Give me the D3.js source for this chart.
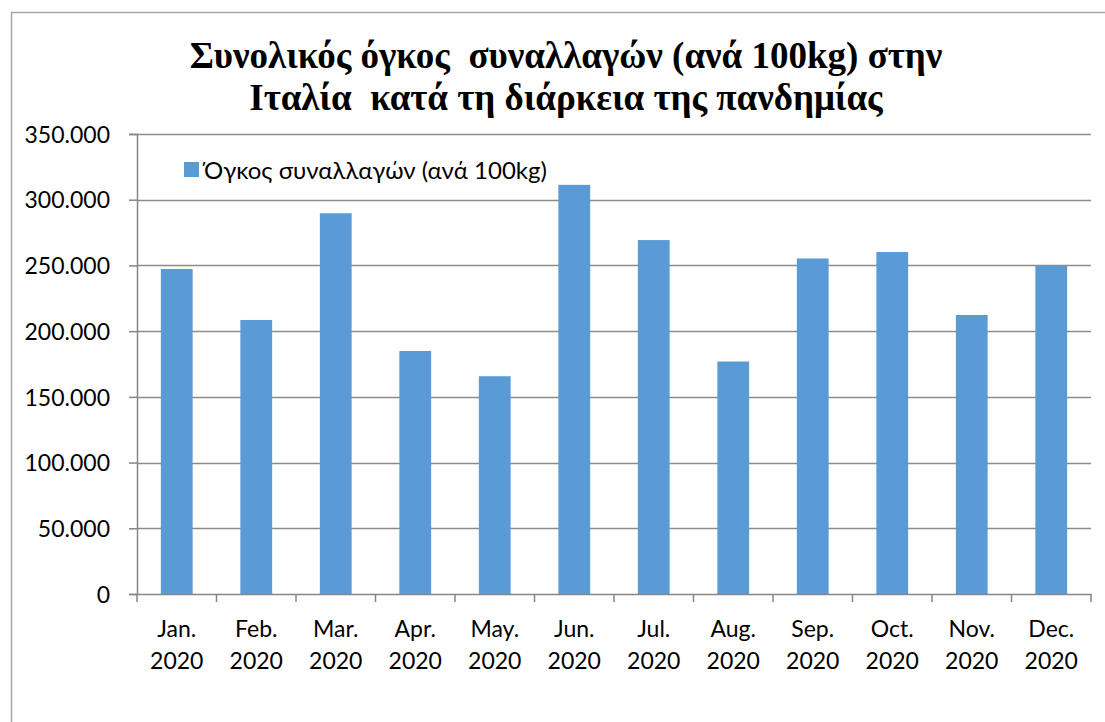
<!DOCTYPE html>
<html>
<head>
<meta charset="utf-8">
<script src="https://cdn.jsdelivr.net/npm/d3@7"></script>
<style>
  body { margin: 0; background: #fff; }
  .tick text { fill: #000; }
</style>
</head>
<body>
<div id="wrapper"></div>
<script>
const months = ["Jan.", "Feb.", "Mar.", "Apr.", "May.", "Jun.", "Jul.", "Aug.", "Sep.", "Oct.", "Nov.", "Dec."]
const year = "2020"
const volumes = [247300, 208500, 289700, 184900, 165700, 311300, 269300, 176900, 255300, 260200, 212300, 249900]
const yTicks = [0, 50000, 100000, 150000, 200000, 250000, 300000, 350000]
const titleLines = ["Συνολικός όγκος  συναλλαγών (ανά 100kg) στην", "Ιταλία  κατά τη διάρκεια της πανδημίας"]
const seriesName = "Όγκος συναλλαγών (ανά 100kg)"

function drawBarChart() {
  const dataset = months.map((m, i) => ({month: m, value: volumes[i]}))

  const dimensions = {
    width: 1105,
    height: 722,
    margin: { top: 134, right: 14, bottom: 128, left: 137 }
  }
  dimensions.boundedWidth = dimensions.width - dimensions.margin.left - dimensions.margin.right
  dimensions.boundedHeight = dimensions.height - dimensions.margin.top - dimensions.margin.bottom

  const wrapper = d3.select("#wrapper")
    .append("svg")
      .attr("width", dimensions.width)
      .attr("height", dimensions.height)

  // chart frame (cropped at right and bottom)
  wrapper.append("path")
    .attr("d", "M11.5,722 V12.5 H1105")
    .attr("fill", "none")
    .attr("stroke", "#a6a6a6")
    .attr("stroke-width", 1.5)

  const title = wrapper.append("text")
    .attr("text-anchor", "middle")
    .style("white-space", "pre")
    .style("font-family", "'Liberation Serif', 'DejaVu Serif', serif")
    .style("font-weight", "bold")
    .style("font-size", "37px")
  title.selectAll("tspan")
    .data(titleLines)
    .enter().append("tspan")
      .attr("x", 566)
      .attr("y", (d, i) => 68 + i * 42)
      .text(d => d)

  const bounds = wrapper.append("g")
    .attr("transform", `translate(${dimensions.margin.left},${dimensions.margin.top})`)

  const xScale = d3.scaleBand()
    .domain(months)
    .range([0, dimensions.boundedWidth])
    .paddingInner(0.6)
    .paddingOuter(0.3)

  const xBounds = d3.scaleBand()
    .domain(months)
    .range([0, dimensions.boundedWidth])

  const yScale = d3.scaleLinear()
    .domain([0, 350000])
    .range([dimensions.boundedHeight, 0])

  // gridlines
  bounds.append("g")
    .selectAll("line")
    .data(yTicks.filter(d => d > 0))
    .enter().append("line")
      .attr("x1", 0)
      .attr("x2", dimensions.boundedWidth)
      .attr("y1", d => Math.round(yScale(d)) + 0.5)
      .attr("y2", d => Math.round(yScale(d)) + 0.5)
      .attr("stroke", "#8c8c8c")
      .attr("stroke-width", 1.5)

  bounds.selectAll("rect.bar")
    .data(dataset)
    .enter().append("rect")
      .attr("class", "bar")
      .attr("x", d => xScale(d.month))
      .attr("width", xScale.bandwidth())
      .attr("y", d => yScale(d.value))
      .attr("height", d => yScale(0) - yScale(d.value))
      .attr("fill", "#5b9bd5")

  const yAxisGenerator = d3.axisLeft(yScale)
    .tickValues(yTicks)
    .tickSize(8)
    .tickPadding(19)
    .tickFormat(d => d === 0 ? "0" : d3.format(",")(d).replace(/,/g, "."))

  const yAxis = bounds.append("g")
    .call(yAxisGenerator)
  yAxis.selectAll(".tick text")
    .style("font-family", "Lato, 'Open Sans', sans-serif")
    .style("font-size", "23px")
    .attr("dy", "0.36em")

  const xAxisGenerator = d3.axisBottom(xBounds)
    .tickSize(0)
    .tickFormat("")

  const xAxis = bounds.append("g")
    .attr("transform", `translate(0,${dimensions.boundedHeight})`)
    .call(xAxisGenerator)

  // tick marks on category boundaries
  xAxis.selectAll("line.boundary")
    .data(months.concat(["end"]))
    .enter().append("line")
      .attr("class", "boundary")
      .attr("x1", (d, i) => i * xBounds.step())
      .attr("x2", (d, i) => i * xBounds.step())
      .attr("y1", 0)
      .attr("y2", 8)
      .attr("stroke", "#868686")
      .attr("stroke-width", 1.5)

  const xLabels = xAxis.append("g")
    .selectAll("text")
    .data(months)
    .enter().append("text")
      .attr("text-anchor", "middle")
      .style("font-family", "Lato, 'Open Sans', sans-serif")
      .style("font-size", "23px")
      .attr("fill", "#000")
  xLabels.append("tspan")
    .attr("x", d => xBounds(d) + xBounds.bandwidth() / 2)
    .attr("y", 43)
    .text(d => d)
  xLabels.append("tspan")
    .attr("x", d => xBounds(d) + xBounds.bandwidth() / 2)
    .attr("y", 75)
    .text(year)

  wrapper.selectAll(".domain")
    .attr("stroke", "#868686")
    .attr("stroke-width", 1.5)
  wrapper.selectAll(".tick line")
    .attr("stroke", "#868686")
    .attr("stroke-width", 1.5)

  const legend = wrapper.append("g")
  legend.append("rect")
    .attr("x", 184)
    .attr("y", 162)
    .attr("width", 15)
    .attr("height", 15)
    .attr("fill", "#5b9bd5")
  legend.append("text")
    .attr("x", 204)
    .attr("y", 179)
    .style("font-family", "Lato, 'Open Sans', sans-serif")
    .style("font-size", "24px")
    .text(seriesName)
}

drawBarChart()
</script>
</body>
</html>
